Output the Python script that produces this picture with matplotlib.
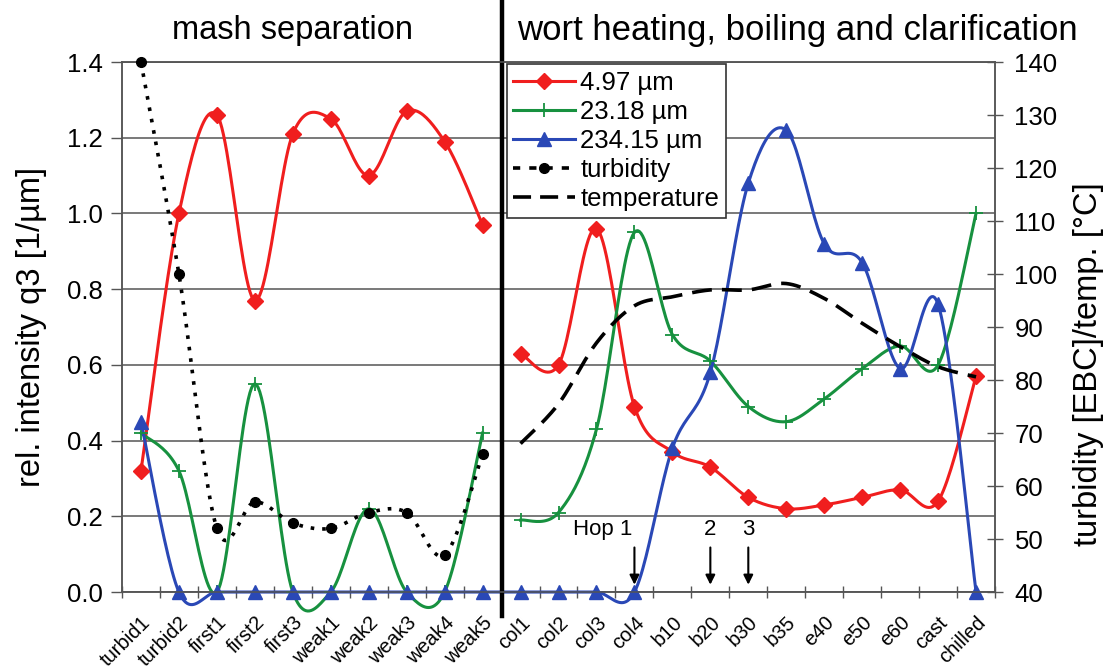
import numpy as np
import matplotlib.pyplot as plt
from matplotlib.lines import Line2D
import matplotlib.transforms as mtransforms

plt.rcParams['font.family'] = ['Liberation Sans', 'DejaVu Sans']

# --- data ---
labels = ["turbid1", "turbid2", "first1", "first2", "first3",
          "weak1", "weak2", "weak3", "weak4", "weak5",
          "col1", "col2", "col3", "col4", "b10", "b20", "b30", "b35",
          "e40", "e50", "e60", "cast", "chilled"]

# rel. intensity q3 [1/um], one value per category
q3_497 = [0.32, 1.00, 1.26, 0.77, 1.21, 1.25, 1.10, 1.27, 1.19, 0.97,
          0.63, 0.60, 0.96, 0.49, 0.37, 0.33, 0.25, 0.22, 0.23, 0.25, 0.27, 0.24, 0.57]
q3_2318 = [0.42, 0.32, 0.00, 0.55, 0.00, 0.00, 0.22, 0.00, 0.00, 0.42,
           0.19, 0.21, 0.43, 0.95, 0.68, 0.61, 0.49, 0.45, 0.51, 0.59, 0.65, 0.60, 1.00]
q3_23415 = [0.45, 0.00, 0.00, 0.00, 0.00, 0.00, 0.00, 0.00, 0.00, 0.00,
            0.00, 0.00, 0.00, 0.00, 0.38, 0.58, 1.08, 1.22, 0.92, 0.87, 0.59, 0.76, 0.00]

# turbidity [EBC] during mash separation (first 10 categories)
turbidity = [140, 100, 52, 57, 53, 52, 55, 55, 47, 66]
# temperature [degC] during wort heating/boiling (last 13 categories)
temperature = [68, 75.5, 87, 94, 95.7, 97, 97, 98.2, 95.4, 90.7, 86.3, 82.5, 80.6]

hops = [("Hop 1", 13), ("2", 15), ("3", 16)]

n_mash = 10


def smooth(x, y, n=24):
    # Excel-like smoothed line (Catmull-Rom style bezier)
    x = np.asarray(x, float)
    y = np.asarray(y, float)
    px = np.concatenate([[x[0]], x, [x[-1]]])
    py = np.concatenate([[y[0]], y, [y[-1]]])
    xs, ys = [x[0]], [y[0]]
    t = np.linspace(0, 1, n)[1:]
    for i in range(len(x) - 1):
        p0 = np.array([px[i], py[i]])
        p1 = np.array([px[i + 1], py[i + 1]])
        p2 = np.array([px[i + 2], py[i + 2]])
        p3 = np.array([px[i + 3], py[i + 3]])
        b1 = p1 + (p2 - p0) / 6
        b2 = p2 - (p3 - p1) / 6
        for tt in t:
            pt = ((1 - tt) ** 3 * p1 + 3 * (1 - tt) ** 2 * tt * b1
                  + 3 * (1 - tt) * tt ** 2 * b2 + tt ** 3 * p2)
            xs.append(pt[0])
            ys.append(pt[1])
    return np.array(xs), np.array(ys)


RED = "#f01e1e"
GREEN = "#17913f"
BLUE = "#2a48b6"
GRID = "#555555"

fig = plt.figure(figsize=(11.04, 6.71), dpi=100)
ax = fig.add_axes([0.1105, 0.1177, 0.7908, 0.7899])
ax2 = ax.twinx()

x = np.arange(len(labels))
xl, xr = x[:n_mash], x[n_mash:]

series = [(q3_497, RED, dict(marker="D", ms=8)),
          (q3_2318, GREEN, dict(marker="+", ms=10, mew=1.3)),
          (q3_23415, BLUE, dict(marker="^", ms=9.5))]
for vals, col, mk in series:
    vals = np.asarray(vals)
    if col == BLUE:
        parts = [(x, vals)]
    else:
        parts = [(xl, vals[:n_mash]), (xr, vals[n_mash:])]
    for px_, py_ in parts:
        sx, sy = smooth(px_, py_)
        ax.plot(sx, sy, color=col, lw=2.2, clip_on=False, zorder=3)
    ax.plot(x, vals, ls="none", color=col, clip_on=False, zorder=4, **mk)

sx, sy = smooth(xl, turbidity)
ax2.plot(sx, sy, color="black", lw=2.6, ls=(0, (1, 2.2)), clip_on=False, zorder=3)
ax2.plot(xl, turbidity, ls="none", marker="o", ms=7, color="black", zorder=4, clip_on=False)

sx, sy = smooth(xr, temperature)
ax2.plot(sx, sy, color="black", lw=2.6, ls=(0, (5.5, 2.8)), zorder=3)

# axes limits / ticks
ax.set_xlim(-0.5, len(labels) - 0.5)
ax.set_ylim(0, 1.4)
ax2.set_ylim(40, 140)
ax.set_yticks(np.arange(0, 1.41, 0.2))
ax.set_yticklabels([f"{v:.1f}" for v in np.arange(0, 1.41, 0.2)])
ax2.set_yticks(np.arange(40, 141, 10))

ax.set_xticks(x)
ax.set_xticklabels(labels, rotation=45, ha="right", rotation_mode="anchor", fontsize=14.5)
shift = mtransforms.ScaledTranslation(-14 / 100, 0, fig.dpi_scale_trans)
for lab in ax.get_xticklabels():
    lab.set_transform(lab.get_transform() + shift)
ax.set_xticks(np.arange(-0.5, len(labels)), minor=True)
ax.tick_params(axis="x", which="major", length=0, pad=15)
ax.tick_params(axis="x", which="minor", length=8, direction="inout", color=GRID, width=1)
ax.tick_params(axis="y", length=8, direction="out", color=GRID, width=1, labelsize=18.5, pad=6)
ax2.tick_params(axis="y", length=12, direction="inout", color=GRID, width=1, labelsize=18.5, pad=8)

ax.yaxis.grid(True, color=GRID, lw=1.1)
ax.set_axisbelow(True)
for a in (ax, ax2):
    for s in a.spines.values():
        s.set_color(GRID)
        s.set_linewidth(1.1)

ax.set_ylabel("rel. intensity q3 [1/µm]", fontsize=23.5)
ax2.set_ylabel("turbidity [EBC]/temp. [°C]", fontsize=23.5)
for a, xc, yc in ((ax, -0.104, 0.5), (ax2, 1.1065, 0.43)):
    lbl = a.yaxis.label
    lbl.set_rotation(90)
    lbl.set_rotation_mode("default")
    lbl.set_ha("center")
    lbl.set_va("center")
    a.yaxis.set_label_coords(xc, yc)

# separator between the two process phases
trans = mtransforms.blended_transform_factory(ax.transData, ax.transAxes)
ax.add_line(Line2D([n_mash - 0.5, n_mash - 0.5], [-0.045, 1.12], transform=trans,
                   color="black", lw=3.2, clip_on=False, zorder=6))
ax.text(0.82, 1.06, "mash separation", transform=trans, ha="left", va="center", fontsize=23.5)
ax.text(9.9, 1.06, "wort heating, boiling and clarification", transform=trans,
        ha="left", va="center", fontsize=25)

# hop dosage arrows
for txt, pos in hops:
    ax.annotate("", xy=(pos, 0.012), xytext=(pos, 0.125),
                arrowprops=dict(arrowstyle="-|>", color="black", lw=1.5, mutation_scale=14))
    if txt.startswith("Hop"):
        ax.text(pos - 0.05, 0.165, txt, ha="right", va="center", fontsize=16)
    else:
        ax.text(pos, 0.165, txt, ha="center", va="center", fontsize=16)

handles = [
    Line2D([], [], color=RED, lw=2.2, marker="D", ms=8),
    Line2D([], [], color=GREEN, lw=2.2, marker="+", ms=10, mew=1.3),
    Line2D([], [], color=BLUE, lw=2.2, marker="^", ms=9.5),
    Line2D([], [], color="black", lw=2.6, ls=(0, (2, 2.5)), marker="o", ms=7),
    Line2D([], [], color="black", lw=2.6, ls=(0, (5, 2.5))),
]
leg = ax2.legend(handles, ["4.97 µm", "23.18 µm", "234.15 µm", "turbidity", "temperature"],
                 loc="upper left", bbox_to_anchor=(0.441, 0.996), fontsize=18.5,
                 frameon=True, fancybox=False, edgecolor="#333333", framealpha=1,
                 handlelength=2.4, handletextpad=0.2, labelspacing=0.2,
                 borderpad=0.25, borderaxespad=0)
leg.get_frame().set_linewidth(1.2)
leg.set_zorder(10)

fig.savefig("out.png", dpi=100)
